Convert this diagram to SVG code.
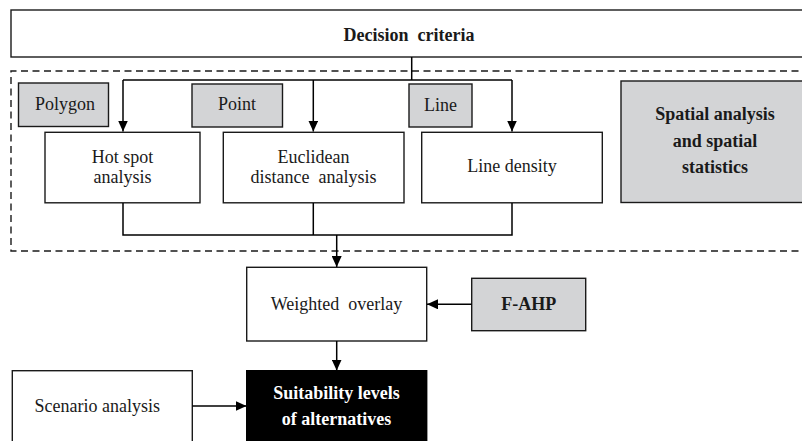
<svg xmlns="http://www.w3.org/2000/svg" width="802" height="441" viewBox="0 0 802 441">
<defs>
<style>
.box{fill:#fff;stroke:#1a1a1a;stroke-width:1.4}
.grey{fill:#d3d4d6;stroke:#1a1a1a;stroke-width:1.4}
.dark{fill:#000;stroke:#000;stroke-width:1.4}
.t{font-family:"Liberation Serif","Times New Roman",serif;font-size:18px;fill:#1a1a1a;text-anchor:middle}
.b{font-weight:bold}
.w{fill:#fff}
.c{fill:none;stroke:#000;stroke-width:1.5}
.dash{fill:none;stroke:#1a1a1a;stroke-width:1.4;stroke-dasharray:7 4.5}
</style>
<marker id="ah" markerUnits="userSpaceOnUse" markerWidth="11" markerHeight="10" refX="11" refY="5" orient="auto">
<path d="M0,0 L11,5 L0,10 z" fill="#000"/>
</marker>
</defs>
<rect width="802" height="441" fill="#fff"/>

<g id="spatial-frame">
<path class="dash" d="M810,71 H11 V251 H810"/>
</g>

<g id="decision-criteria">
<rect class="box" x="11" y="10" width="800" height="47"/>
<text class="t b" x="409" y="41">Decision&#160;&#160;criteria</text>
</g>

<g id="polygon">
<rect class="grey" x="18.5" y="83" width="90" height="43.5"/>
<text class="t" x="65" y="109.5">Polygon</text>
</g>

<g id="point">
<rect class="grey" x="192" y="84" width="90.5" height="43"/>
<text class="t" x="237" y="110">Point</text>
</g>

<g id="line">
<rect class="grey" x="409" y="84" width="63" height="43"/>
<text class="t" x="440.5" y="111">Line</text>
</g>

<g id="spatial-analysis">
<rect class="grey" x="621" y="81" width="190" height="121.5"/>
<text class="t b" x="715" y="120">Spatial analysis</text>
<text class="t b" x="715" y="147">and spatial</text>
<text class="t b" x="715" y="173">statistics</text>
</g>

<g id="hot-spot">
<rect class="box" x="45" y="132.3" width="155" height="70.5"/>
<text class="t" x="122.5" y="162.5">Hot spot</text>
<text class="t" x="122.5" y="182.5">analysis</text>
</g>

<g id="euclidean">
<rect class="box" x="223.3" y="132.3" width="180.7" height="70.5"/>
<text class="t" x="313.5" y="162.5">Euclidean</text>
<text class="t" x="313.5" y="182.5">distance&#160; analysis</text>
</g>

<g id="line-density">
<rect class="box" x="421.7" y="132.3" width="180.6" height="70.5"/>
<text class="t" x="512" y="172">Line density</text>
</g>

<g id="weighted-overlay">
<rect class="box" x="246.7" y="267.3" width="180" height="73.7"/>
<text class="t" x="336.5" y="310">Weighted&#160; overlay</text>
</g>

<g id="f-ahp">
<rect class="grey" x="471.7" y="278.3" width="114" height="52.4"/>
<text class="t b" x="528.7" y="310">F-AHP</text>
</g>

<g id="scenario-analysis">
<rect class="box" x="12.3" y="370.7" width="180" height="80"/>
<text class="t" x="97.3" y="411.5">Scenario analysis</text>
</g>

<g id="suitability">
<rect class="dark" x="246.7" y="370.7" width="180" height="80"/>
<text class="t b w" x="336.5" y="398.5">Suitability levels</text>
<text class="t b w" x="336.5" y="425">of alternatives</text>
</g>

<g id="connectors">
<path class="c" d="M411.7,57 V80"/>
<path class="c" d="M123,80 H512"/>
<path class="c" d="M123,80 V131.5" marker-end="url(#ah)"/>
<path class="c" d="M313.3,80 V131.5" marker-end="url(#ah)"/>
<path class="c" d="M512,80 V131.5" marker-end="url(#ah)"/>
<path class="c" d="M123,203 V235 H512 V203"/>
<path class="c" d="M313.3,203 V235"/>
<path class="c" d="M336.7,235 V267" marker-end="url(#ah)"/>
<path class="c" d="M471.7,304.3 H427" marker-end="url(#ah)"/>
<path class="c" d="M336.7,341 V370.5" marker-end="url(#ah)"/>
<path class="c" d="M192.3,406 H246.5" marker-end="url(#ah)"/>
</g>
</svg>
